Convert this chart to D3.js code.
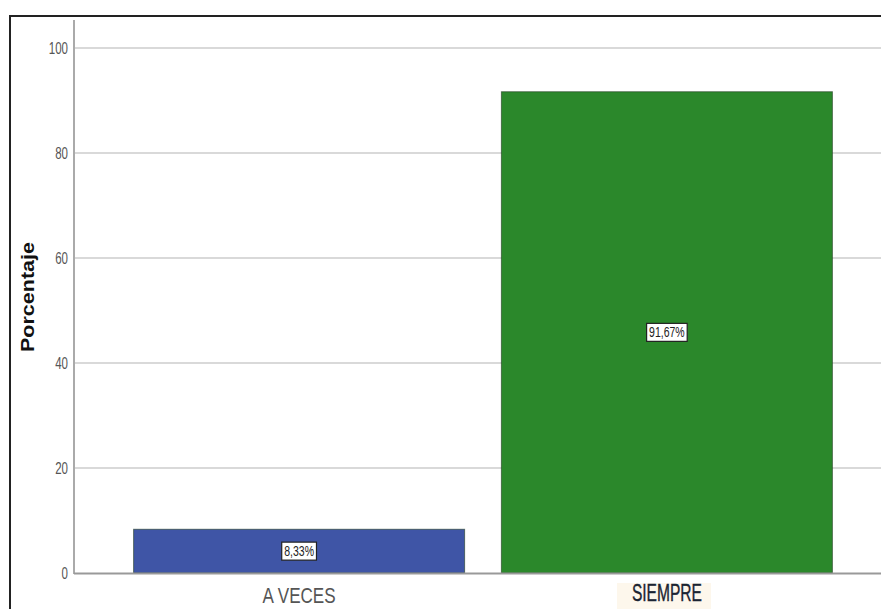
<!DOCTYPE html>
<html><head><meta charset="utf-8">
<script src="https://cdn.jsdelivr.net/npm/d3@7"></script>
<style>body{margin:0;background:#fff;}svg{display:block;}</style>
</head><body>
<svg id="c" width="881" height="609"></svg>
<script>
const categories = ["A VECES", "SIEMPRE"];
const values = [8.33, 91.67];
const valueLabels = ["8,33%", "91,67%"];
const yTicks = [0, 20, 40, 60, 80, 100];
const colors = ["#3f55a6", "#2b882b"];

const svg = d3.select("#c");
const font = "'Liberation Sans', Arial, sans-serif";

// frame
svg.append("path").attr("d", "M10,610 L10,16 L882,16").attr("fill", "none").attr("stroke", "#222").attr("stroke-width", 2);

const y = d3.scaleLinear().domain([0, 100]).range([573, 48]);
const x = d3.scaleBand().domain(categories).range([74, 892]).paddingInner(0.1).paddingOuter(0.162);

// gridlines
svg.append("g").selectAll("line").data(yTicks.filter(d => d > 0)).join("line")
  .attr("x1", 75).attr("x2", 881).attr("y1", d => y(d)).attr("y2", d => y(d))
  .attr("stroke", "#d9d9d9").attr("stroke-width", 2);

// bars
svg.append("g").selectAll("rect").data(values).join("rect")
  .attr("x", (d, i) => x(categories[i])).attr("width", x.bandwidth())
  .attr("y", d => y(d)).attr("height", d => y(0) - y(d))
  .attr("fill", (d, i) => colors[i]).attr("stroke", "#1f3a1f").attr("stroke-opacity", 0.6).attr("stroke-width", 1);

// y axis
const yAxis = svg.append("g").attr("transform", "translate(74,0)")
  .call(d3.axisLeft(y).tickValues(yTicks).tickSize(0).tickPadding(6));
yAxis.select(".domain").remove();
yAxis.selectAll("text").attr("font-family", font).attr("font-size", 16).attr("fill", "#555")
  .attr("x", -6 / 0.72).attr("transform", "scale(0.72,1)");
svg.append("line").attr("x1", 74).attr("x2", 74).attr("y1", 20).attr("y2", 574).attr("stroke", "#aaa").attr("stroke-width", 2);
svg.append("line").attr("x1", 74).attr("x2", 881).attr("y1", 573.5).attr("y2", 573.5).attr("stroke", "#999").attr("stroke-width", 2);

// x labels
svg.append("rect").attr("x", 617).attr("y", 583).attr("width", 94).attr("height", 26).attr("fill", "#fdf7ec");
const xAxis = svg.append("g").attr("transform", "translate(0,574)")
  .call(d3.axisBottom(x).tickSize(0).tickPadding(0));
xAxis.select(".domain").remove();
xAxis.selectAll("text")
  .attr("font-family", font)
  .attr("font-size", (d, i) => i === 0 ? 22 : 24)
  .attr("dy", null)
  .attr("y", (d, i) => i === 0 ? 29 : 27)
  .attr("textLength", (d, i) => i === 0 ? 73 : 70)
  .attr("lengthAdjust", "spacingAndGlyphs")
  .attr("stroke", (d, i) => i === 0 ? "none" : "#1a2433").attr("stroke-width", 0.4)
  .attr("fill", (d, i) => i === 0 ? "#555" : "#1a2433");

// value labels
const lab = svg.append("g").selectAll("g").data(values).join("g")
  .attr("transform", (d, i) => `translate(${x(categories[i]) + x.bandwidth() / 2},${(y(d) + y(0)) / 2})`);
lab.append("text").text((d, i) => valueLabels[i])
  .attr("text-anchor", "middle").attr("y", 5)
  .attr("transform", "scale(0.75,1)")
  .attr("font-family", font).attr("font-size", 14).attr("fill", "#222");
lab.each(function () {
  const g = d3.select(this);
  const b = g.select("text").node().getBBox();
  const w = b.width * 0.75;
  g.insert("rect", "text").attr("x", -w / 2 - 2.5).attr("y", -9).attr("width", w + 5).attr("height", 18)
    .attr("fill", "#fff").attr("stroke", "#222").attr("stroke-width", 1.2);
});

// y title
svg.append("text").text("Porcentaje")
  .attr("transform", "translate(34,297) rotate(-90)")
  .attr("text-anchor", "middle").attr("font-family", font)
  .attr("font-weight", "bold").attr("font-size", 19).attr("fill", "#111")
  .attr("textLength", 110).attr("lengthAdjust", "spacingAndGlyphs");
</script>
</body></html>
